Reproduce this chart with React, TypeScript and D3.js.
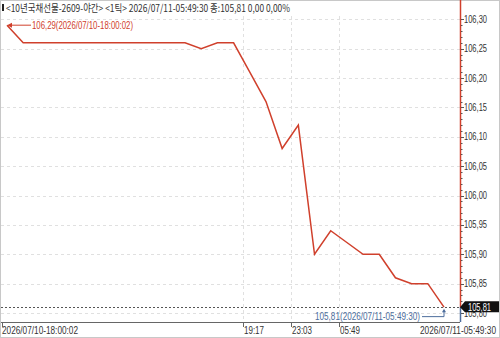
import React from "react";
import * as d3 from "d3";

const title = "<10년국채선물-2609-야간> <1틱> 2026/07/11-05:49:30 종:105,81 0,00 0,00%";
const prices = [
  106.29, 106.26, 106.26, 106.26, 106.26, 106.26, 106.26, 106.26, 106.26, 106.26,
  106.26, 106.26, 106.25, 106.26, 106.26, 106.21, 106.16, 106.08, 106.12, 105.9,
  105.94, 105.92, 105.9, 105.9, 105.86, 105.85, 105.85, 105.81,
];
const yTicks = [106.3, 106.25, 106.2, 106.15, 106.1, 106.05, 106.0, 105.95, 105.9, 105.85, 105.8];
const timeTickIdx = [14.6, 17.55, 20.5];
const timeTickLabels = ["19:17", "23:03", "05:49"];
const startLabel = "2026/07/10-18:00:02";
const endLabel = "2026/07/11-05:49:30";
const highNote = "106,29(2026/07/10-18:00:02)";
const lastNote = "105,81(2026/07/11-05:49:30)";
const lastPrice = 105.81;

const W = 500;
const H = 338;
const AX = 460;
const FONT = "'Liberation Sans', 'Noto Sans CJK KR', sans-serif";
const KFONT = "'Noto Sans CJK KR', 'Liberation Sans', sans-serif";

const fmt = (v: number) => v.toFixed(2).replace(".", ",");

export default function App() {
  const x = d3.scaleLinear().domain([0, prices.length - 1]).range([7, 444]);
  const y = d3.scaleLinear().domain([105.8, 106.3]).range([313, 19.3]);
  const line = d3
    .line<number>()
    .x((_, i) => x(i))
    .y((d) => y(d));
  const minorTicks = d3.range(0, 51).map((i) => 105.8 + i * 0.01);
  const lastY = y(lastPrice);
  const lastX = x(prices.length - 1);
  const hiX = x(0);
  const hiY = y(prices[0]);
  const red = "#d0402c";
  const blue = "#4d6d9c";
  return (
    <svg width={W} height={H} style={{ position: "absolute", left: 0, top: 0, background: "#fff" }}>
      <rect x={0.5} y={0.5} width={W - 1} height={H - 1} fill="#fff" stroke="#c8c8c8" />
      {yTicks.map((t) => (
        <line key={t} x1={1} x2={AX} y1={Math.round(y(t)) + 0.5} y2={Math.round(y(t)) + 0.5} stroke="#e0e0e0" strokeDasharray="3,3" />
      ))}
      {timeTickIdx.map((t) => (
        <line key={t} x1={Math.round(x(t)) + 0.5} x2={Math.round(x(t)) + 0.5} y1={16} y2={322} stroke="#e0e0e0" strokeDasharray="3,3" />
      ))}
      <line x1={1} x2={AX} y1={Math.round(lastY) + 0.5} y2={Math.round(lastY) + 0.5} stroke="#555" strokeDasharray="2,2" />
      <rect x={2} y={4} width={2} height={7} fill="#222" />
      <text x={6} y={12} fontFamily={KFONT} fontSize={10.5} fill="#333" textLength={284} lengthAdjust="spacingAndGlyphs">
        {title}
      </text>
      <path d={line(prices) || ""} fill="none" stroke={red} strokeWidth={1.5} strokeLinejoin="miter" />
      <line x1={hiX + 3} x2={31} y1={hiY} y2={hiY} stroke={red} strokeWidth={1} />
      <path d={`M${hiX},${hiY} l5,-2.5 l0,5 z`} fill={red} />
      <text x={32} y={hiY + 3.5} fontFamily={FONT} fontSize={10} fill={red} textLength={101} lengthAdjust="spacingAndGlyphs">
        {highNote}
      </text>
      <text x={420} y={lastY + 12.5} fontFamily={FONT} fontSize={10} fill={blue} textAnchor="end" textLength={105} lengthAdjust="spacingAndGlyphs">
        {lastNote}
      </text>
      <polyline points={`422,${lastY + 9.5} ${lastX},${lastY + 9.5} ${lastX},${lastY + 3}`} fill="none" stroke={blue} strokeWidth={1} />
      <path d={`M${lastX},${lastY + 1.5} l-2,3.5 l4,0 z`} fill={blue} />
      <line x1={AX + 0.5} x2={AX + 0.5} y1={0} y2={lastY} stroke={red} strokeWidth={1.5} />
      <line x1={AX + 0.5} x2={AX + 0.5} y1={lastY} y2={322} stroke={blue} strokeWidth={1.5} />
      {minorTicks.map((t, i) => (
        <line key={i} x1={AX + 1} x2={AX + (i % 5 === 0 ? 4 : 2.5)} y1={Math.round(y(t)) + 0.5} y2={Math.round(y(t)) + 0.5} stroke="#555" strokeWidth={1} />
      ))}
      {yTicks.map((t) => (
        <text key={t} x={464} y={y(t) + 3.5} fontFamily={FONT} fontSize={10} fill="#333" textLength={23} lengthAdjust="spacingAndGlyphs">
          {fmt(t)}
        </text>
      ))}
      <path d={`M${AX},${lastY} L${AX + 5},${lastY - 6} L${W - 1},${lastY - 6} L${W - 1},${lastY + 5} L${AX + 5},${lastY + 5} Z`} fill="#111" />
      <text x={468} y={lastY + 3.5} fontFamily={FONT} fontSize={10} fill="#fff" textLength={23} lengthAdjust="spacingAndGlyphs">
        {fmt(lastPrice)}
      </text>
      <line x1={1} x2={AX} y1={322.5} y2={322.5} stroke="#666" strokeWidth={1} />
      <line x1={2.5} x2={2.5} y1={322} y2={327} stroke="#666" />
      {timeTickIdx.map((t, i) => (
        <g key={t}>
          <line x1={Math.round(x(t)) + 0.5} x2={Math.round(x(t)) + 0.5} y1={322} y2={327} stroke="#666" />
          <text x={Math.round(x(t)) + 1} y={334} fontFamily={FONT} fontSize={10} fill="#333" textLength={20} lengthAdjust="spacingAndGlyphs">
            {timeTickLabels[i]}
          </text>
        </g>
      ))}
      <text x={2} y={334} fontFamily={FONT} fontSize={10} fill="#333" textLength={76} lengthAdjust="spacingAndGlyphs">
        {startLabel}
      </text>
      <text x={496} y={334} fontFamily={FONT} fontSize={10} fill="#333" textAnchor="end" textLength={76} lengthAdjust="spacingAndGlyphs">
        {endLabel}
      </text>
    </svg>
  );
}
